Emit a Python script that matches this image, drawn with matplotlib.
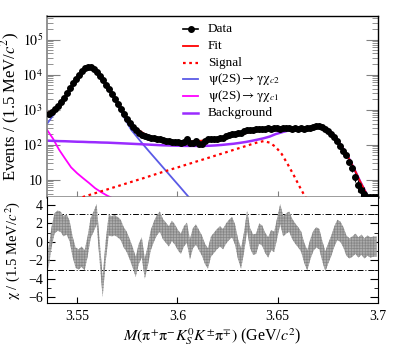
import numpy as np
import matplotlib
matplotlib.use("Agg")
import matplotlib.pyplot as plt
from matplotlib.ticker import LogLocator, FuncFormatter, MultipleLocator, FixedLocator, NullFormatter
from matplotlib.lines import Line2D

plt.rcParams['font.family'] = ['Liberation Serif', 'DejaVu Serif']
plt.rcParams['mathtext.fontset'] = 'stix'
plt.rcParams['hatch.linewidth'] = 0.5

# ---------------- data ----------------
x_lo, x_hi, bin_w = 3.535, 3.700, 0.0015
counts = [747, 850, 1030, 1250, 1630, 2100, 2900, 4040, 5600, 7700,
          10000, 12900, 15800, 16900, 17000, 14800, 12100, 9400, 7200, 5200,
          3800, 2740, 1980, 1430, 1030, 750, 540, 416, 320, 265,
          218, 190, 180, 168, 158, 158, 148, 148, 138, 130,
          130, 121, 121, 121, 114, 121, 148, 114, 114, 130,
          107, 107, 130, 148, 148, 148, 148, 158, 158, 180,
          190, 204, 204, 218, 218, 248, 265, 265, 265, 282,
          282, 282, 282, 300, 282, 300, 300, 282, 300, 300,
          300, 282, 300, 282, 300, 282, 300, 300, 320, 343,
          343, 320, 282, 248, 204, 168, 130, 94, 68, 49,
          33, 21, 12, 7, 5, 4, 0, 0, 0, 0]

curve_step = 0.003
fit = [786, 958, 1400, 2400, 4600, 8200, 13800, 16800, 13800, 8800,
       4600, 2400, 1254, 638, 380, 281, 213, 176, 152, 138,
       129, 125, 123, 122, 124, 127, 131, 137, 144, 153,
       164, 177, 192, 210, 231, 255, 278, 284, 286, 279,
       278, 278, 281, 288, 301, 325, 310, 248, 158, 88,
       46, 21, 9.1, 4.2, 1.5, 0.5]
signal = [1.52, 1.73, 1.95, 2.22, 2.50, 2.82, 3.21, 3.64, 4.11, 4.65,
          5.26, 5.96, 6.73, 7.62, 8.62, 9.75, 11.0, 12.5, 14.2, 16.1,
          18.2, 20.6, 23.2, 26.3, 29.7, 33.7, 38.0, 43.0, 48.7, 55.1,
          62.3, 70.8, 80.1, 90.7, 103, 116, 126, 114, 86, 54,
          27.5, 13.4, 6.2, 3.0, 1.3]
chic2 = [390, 680, 1200, 2230, 4450, 8060, 13670, 16680, 13680, 8680,
         4480, 2280, 1135, 520, 263, 162, 100, 63, 40, 25.4,
         16.1, 10.2, 6.5, 4.1, 2.6, 1.65, 1.05, 0.66]
chic1 = [265, 148, 72, 40, 22.5, 15.3, 11, 8, 5.7, 4.4, 3.5, 2.9, 2.5, 2.2, 2.0]
background = [130, 128, 126, 125, 123, 121, 120, 118, 117, 115,
              114, 112, 110, 108, 106, 104, 102, 100, 98, 96,
              95, 94, 93, 92, 92, 92, 92, 93, 95, 98,
              102, 106, 112, 119, 128, 139, 152, 170, 200, 225,
              250, 265, 275, 285, 300, 325, 310, 248, 158, 88,
              46, 21, 9.1, 4.2, 1.5, 0.5]

chi = [-1.8, 0.5, 2.0, 2.3, 2.2, 1.7, 1.9, 1.2, -0.5, -1.7,
       -1.9, -1.6, -2.0, -0.5, 1.5, 2.2, 3.0, -1.0, -4.9, -1.0,
       1.8, 1.7, 1.8, 1.6, 1.3, 0.5, 0.0, -0.8, -1.7, -2.7,
       -1.3, -0.6, -2.9, -1.5, 0.2, 1.1, 1.8, 2.2, 1.4, 1.0,
       0.6, 1.2, 0.8, 0.2, -0.2, 0.6, 1.0, -0.8, 0.4, 0.8,
       0.2, -0.4, -1.3, -1.8, -0.5, -0.1, 0.3, 0.6, 0.3, 0.9,
       1.3, 1.6, 0.8, -0.8, -1.8, 0.0, 2.3, 0.4, -0.3, -0.2,
       0.9, 0.7, -0.1, -0.6, 0.2, 0.0, 1.5, 3.0, 1.7, 2.0,
       2.2, 1.4, 0.9, 0.5, 0.0, -1.2, -2.0, -0.8, 0.1, 0.5,
       0.3, -1.0, -2.1, -1.2, -0.4, 0.6, 1.3, 1.1, 0.5, -0.4,
       -0.7, -0.5, -0.2, -0.6, -0.3, -0.7, -0.4, -0.6, -0.5, -0.5]
chi_halfwidth = 1.1

legend_labels = ['Data', 'Fit', 'Signal',
                 r'$\mathrm{\psi}$(2S)$\rightarrow\mathrm{\gamma\chi}_{c2}$',
                 r'$\mathrm{\psi}$(2S)$\rightarrow\mathrm{\gamma\chi}_{c1}$',
                 'Background']

# ---------------- derived positions ----------------
counts = np.array(counts, dtype=float)
xb = x_lo + bin_w / 2 + bin_w * np.arange(len(counts))
xc_full = x_lo + curve_step * np.arange(len(fit))
chi = np.array(chi)

ymin, ymax = 3.2, 4.7e5

fig = plt.figure(figsize=(4.07, 3.60), dpi=100)
ax1 = fig.add_axes([47/407, 1-197/360, 331/407, 181/360])
ax2 = fig.add_axes([47/407, 1-303/360, 331/407, 106/360])

# ---------------- top panel ----------------
c_blue = '#5a5ae6'
c_mag = '#ff00ff'
c_bkg = '#9a2bff'
styles = [dict(color='black', lw=1.2, marker='o', ms=4),
          dict(color='red', lw=1.3),
          dict(color='red', lw=1.6, ls=(0, (1.2, 1.6))),
          dict(color=c_blue, lw=1.3),
          dict(color=c_mag, lw=1.3),
          dict(color=c_bkg, lw=1.8)]

ax1.plot(xc_full[:len(chic1)], chic1, zorder=2, **styles[4])
ax1.plot(xc_full[:len(chic2)], chic2, zorder=2, **styles[3])
ax1.plot(xc_full, background, zorder=2, **styles[5])
ax1.plot(xc_full[:len(signal)], signal, zorder=3, **styles[2])
ax1.plot(xc_full, fit, zorder=4, **styles[1])

nz = counts > 0
err = np.sqrt(counts[nz])
lower = np.minimum(err, counts[nz] - ymin * 0.6)
ax1.errorbar(xb[nz], counts[nz], yerr=[lower, err], fmt='o', color='black', ms=4,
             elinewidth=0.8, capsize=0, zorder=5)
ax1.plot(xb[~nz], np.full((~nz).sum(), ymin), 'o', color='black', ms=4, zorder=5)

ax1.set_yscale('log')
ax1.set_xlim(x_lo, x_hi)
ax1.set_ylim(ymin, ymax)
ax1.yaxis.set_major_locator(LogLocator(base=10, numticks=10))
ax1.yaxis.set_minor_locator(LogLocator(base=10, subs=np.arange(2, 10), numticks=50))
ax1.yaxis.set_minor_formatter(NullFormatter())

def logfmt(v, pos):
    e = int(round(np.log10(v)))
    if e == 1:
        return '10'
    return r'$10^{%d}$' % e
ax1.yaxis.set_major_formatter(FuncFormatter(logfmt))
ax1.xaxis.set_major_locator(FixedLocator([3.55, 3.6, 3.65, 3.7]))
ax1.tick_params(axis='x', labelbottom=False, direction='in', length=4, color='#808080',
                top=False)
ax1.tick_params(axis='y', which='major', direction='in', length=9, color='#808080',
                right=True, labelsize=10, pad=3)
ax1.tick_params(axis='y', which='minor', direction='in', length=4.5, color='#808080',
                right=True)
ax1.spines['left'].set_color('#808080')
ax1.spines['bottom'].set_color('#808080')
ax1.spines['bottom'].set_linewidth(1.8)
ax1.spines['left'].set_linewidth(1.2)
ax1.spines['top'].set_linewidth(1.0)
ax1.spines['right'].set_linewidth(1.0)
ax1.set_ylabel(r'Events / (1.5 MeV/$c^{2}$)', fontsize=12)

# manual legend (rows evenly spaced, as in the reference)
ax_w, ax_h = 331.0, 181.0
for j, (lab, st) in enumerate(zip(legend_labels, styles)):
    yy = 1 - (29 + 16.8 * j - 16) / ax_h
    x0, x1 = (183 - 47) / ax_w, (198 - 47) / ax_w
    ax1.add_line(Line2D([x0, x1], [yy, yy], transform=ax1.transAxes,
                        **{k: v for k, v in st.items() if k != 'marker' and k != 'ms'}))
    if 'marker' in st:
        ax1.plot([(x0 + x1) / 2], [yy], transform=ax1.transAxes, marker='o',
                 ms=st['ms'], color='black')
    ax1.text((208 - 47) / ax_w, yy, lab, transform=ax1.transAxes, fontsize=9.5,
             va='center', ha='left')

# ---------------- bottom panel ----------------
ax2.fill_between(xb, chi - chi_halfwidth, chi + chi_halfwidth, facecolor='#ababab',
                 edgecolor='#858585', hatch='++++++', lw=0, zorder=2)
ax2.axhline(3, color='black', lw=0.7, ls=(0, (6, 2, 1, 2)), zorder=1)
ax2.axhline(-3, color='black', lw=0.7, ls=(0, (6, 2, 1, 2)), zorder=1)
ax2.set_xlim(x_lo, x_hi)
ax2.set_ylim(-6.62, 4.87)
ax2.yaxis.set_major_locator(FixedLocator([-6, -4, -2, 0, 2, 4]))
ax2.yaxis.set_minor_locator(MultipleLocator(1))
ax2.xaxis.set_major_locator(FixedLocator([3.55, 3.6, 3.65, 3.7]))
ax2.xaxis.set_major_formatter(FuncFormatter(lambda v, p: ('%.2f' % v).rstrip('0')))
ax2.tick_params(axis='x', direction='in', length=4, labelsize=10, pad=5)
ax2.tick_params(axis='y', which='major', direction='in', length=6, right=True,
                labelsize=10, pad=3)
ax2.tick_params(axis='y', which='minor', direction='in', length=3, right=True)
ax2.spines['top'].set_visible(False)
ax2.set_ylabel(r'$\mathrm{\chi}$ / (1.5 MeV/$c^{2}$)', fontsize=10.5)
ax2.set_xlabel(r'$M(\mathrm{\pi^{+}\pi^{-}}K_{S}^{0}K^{\pm}\mathrm{\pi^{\mp}})$ (GeV/$c^{2}$)',
               fontsize=11.5, labelpad=2)

ax1.yaxis.set_label_coords(-0.075, 0.5)
ax2.yaxis.set_label_coords(-0.075, 0.5)

fig.savefig('out.png', dpi=100)
